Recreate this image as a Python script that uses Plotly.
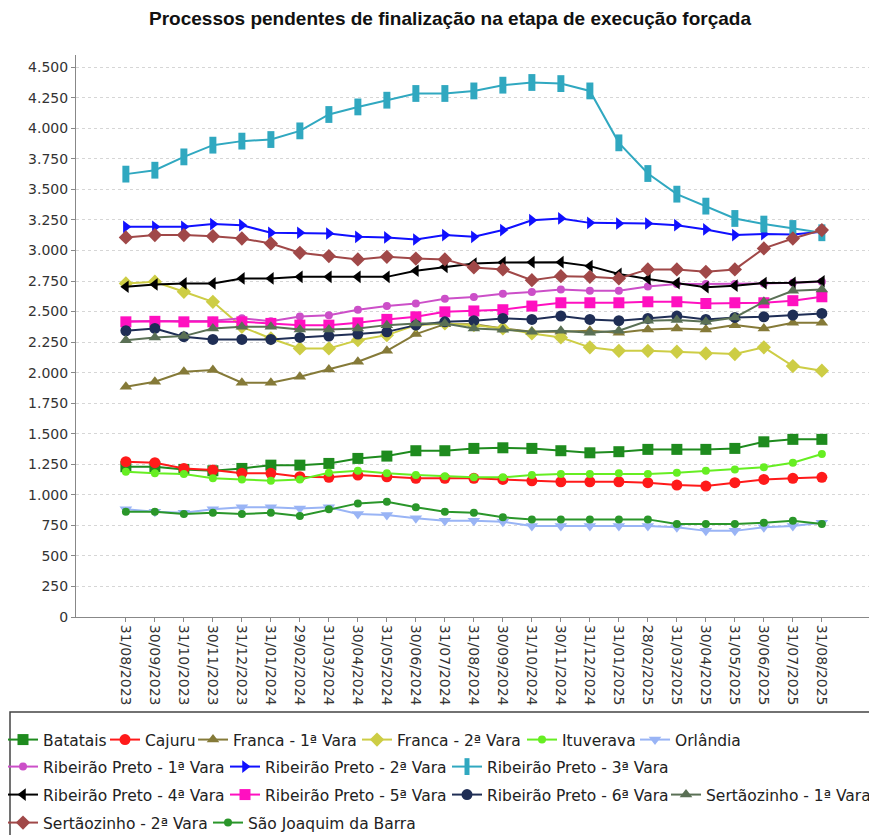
import plotly.graph_objects as go

dates = [
    "31/08/2023", "30/09/2023", "31/10/2023", "30/11/2023", "31/12/2023",
    "31/01/2024", "29/02/2024", "31/03/2024", "30/04/2024", "31/05/2024",
    "30/06/2024", "31/07/2024", "31/08/2024", "30/09/2024", "31/10/2024",
    "30/11/2024", "31/12/2024", "31/01/2025", "28/02/2025", "31/03/2025",
    "30/04/2025", "31/05/2025", "30/06/2025", "31/07/2025", "31/08/2025",
]

batatais = [1230, 1230, 1208, 1197, 1216, 1243, 1243, 1257, 1298, 1317, 1361, 1361, 1380,
            1385, 1380, 1361, 1344, 1353, 1372, 1372, 1372, 1380, 1434, 1454, 1454]
cajuru = [1271, 1263, 1216, 1203, 1176, 1176, 1148, 1143, 1162, 1148, 1135, 1135, 1135,
          1126, 1115, 1107, 1107, 1107, 1099, 1080, 1072, 1099, 1126, 1135, 1143]
franca_1 = [1884, 1925, 2007, 2021, 1917, 1917, 1966, 2026, 2089, 2179, 2316, 2397, 2397,
            2362, 2334, 2334, 2343, 2326, 2353, 2362, 2353, 2389, 2362, 2408, 2408]
franca_2 = [2730, 2744, 2662, 2580, 2375, 2280, 2198, 2198, 2266, 2307, 2389, 2403, 2389,
            2362, 2321, 2288, 2207, 2179, 2179, 2171, 2157, 2152, 2207, 2054, 2016]
ituverava = [1189, 1176, 1170, 1135, 1126, 1115, 1126, 1181, 1197, 1176, 1162, 1153, 1143,
             1143, 1162, 1170, 1170, 1176, 1170, 1181, 1197, 1208, 1225, 1263, 1334]
orlandia = [881, 862, 853, 881, 898, 898, 889, 898, 843, 835, 808, 788, 788,
            780, 745, 745, 745, 745, 745, 734, 705, 705, 734, 745, 772]
rp_1 = [2420, 2420, 2420, 2425, 2445, 2420, 2460, 2470, 2515, 2545, 2565, 2605, 2620,
        2645, 2660, 2680, 2670, 2670, 2705, 2725, 2725, 2725, 2730, 2735, 2745]
rp_2 = [3194, 3194, 3194, 3216, 3207, 3145, 3145, 3139, 3112, 3107, 3090, 3126, 3112,
        3167, 3248, 3262, 3226, 3221, 3221, 3207, 3172, 3126, 3134, 3130, 3153]
rp_3 = [3625, 3657, 3766, 3862, 3895, 3908, 3979, 4113, 4175, 4230, 4285, 4285, 4306,
        4353, 4375, 4366, 4306, 3881, 3630, 3461, 3363, 3262, 3216, 3180, 3145]
rp_4 = [2703, 2722, 2730, 2730, 2771, 2771, 2784, 2784, 2784, 2784, 2834, 2866, 2893,
        2902, 2904, 2904, 2872, 2808, 2767, 2733, 2700, 2712, 2733, 2735, 2748]
rp_5 = [2416, 2420, 2416, 2416, 2416, 2403, 2389, 2389, 2408, 2436, 2457, 2498, 2505,
        2515, 2545, 2572, 2572, 2572, 2580, 2580, 2566, 2572, 2572, 2589, 2621]
rp_6 = [2343, 2362, 2294, 2272, 2272, 2272, 2288, 2299, 2316, 2334, 2389, 2416, 2425,
        2444, 2436, 2463, 2436, 2425, 2444, 2463, 2436, 2452, 2457, 2471, 2485]
sertaozinho_1 = [2266, 2288, 2299, 2362, 2375, 2375, 2353, 2353, 2362, 2389, 2403, 2403, 2362,
                 2352, 2334, 2343, 2326, 2343, 2425, 2430, 2416, 2452, 2580, 2670, 2681]
sertaozinho_2 = [3107, 3126, 3126, 3117, 3098, 3057, 2981, 2954, 2927, 2948, 2934, 2927, 2861,
                 2845, 2757, 2790, 2784, 2771, 2845, 2845, 2825, 2845, 3017, 3098, 3167]
sao_joaquim = [862, 862, 843, 853, 843, 853, 826, 881, 930, 944, 898, 862, 853,
               816, 799, 799, 799, 799, 799, 761, 761, 761, 772, 788, 761]

# name, values, color, symbol, marker size
series = [
    ("Batatais", batatais, "#1E8B1E", "square", 11),
    ("Cajuru", cajuru, "#FF1A1A", "circle", 11),
    ("Franca - 1ª Vara", franca_1, "#857A38", "triangle-up", 11),
    ("Franca - 2ª Vara", franca_2, "#CDCD45", "diamond", 11),
    ("Ituverava", ituverava, "#66EE22", "circle", 8),
    ("Orlândia", orlandia, "#99B4F5", "triangle-down", 11),
    ("Ribeirão Preto - 1ª Vara", rp_1, "#CC4FC8", "circle", 8),
    ("Ribeirão Preto - 2ª Vara", rp_2, "#1010FF", "triangle-right", 11),
    ("Ribeirão Preto - 3ª Vara", rp_3, "#30A8C0", "line-ns", 12),
    ("Ribeirão Preto - 4ª Vara", rp_4, "#000000", "triangle-left", 11),
    ("Ribeirão Preto - 5ª Vara", rp_5, "#FF10C0", "square", 11),
    ("Ribeirão Preto - 6ª Vara", rp_6, "#1F2E55", "circle", 11),
    ("Sertãozinho - 1ª Vara", sertaozinho_1, "#5A7055", "triangle-up", 11),
    ("Sertãozinho - 2ª Vara", sertaozinho_2, "#A04848", "diamond", 11),
    ("São Joaquim da Barra", sao_joaquim, "#2A962A", "circle", 8),
]

# legend entry placement (text start x, row centre y), page pixels
legend_pos = [
    (43, 740), (145, 740), (233, 740), (397, 740), (562, 740), (675, 740),
    (43, 767), (265, 767), (487, 767),
    (43, 795), (265, 795), (487, 795), (706, 795),
    (43, 823), (248, 823),
]

# the page has an 8px body margin, so the figure is shrunk by that much
W, H = 869, 827


# page pixel -> paper (plot area on the page: x 76..870, y 55..617)
def py(ypx):
    return (617 - ypx) / 562


def px(xpx):
    return (xpx - 76) / 794


fig = go.Figure()
layout_legends = {}
for i, ((name, vals, color, symbol, size), (tx, ty)) in enumerate(zip(series, legend_pos)):
    leg = "legend" if i == 0 else f"legend{i + 1}"
    if symbol == "line-ns":
        marker = dict(symbol=symbol, size=size, line=dict(width=7, color=color))
    else:
        marker = dict(symbol=symbol, size=size, color=color)
    fig.add_trace(go.Scatter(
        x=dates,
        y=vals,
        name=name,
        mode="lines+markers",
        line=dict(color=color, width=2),
        marker=marker,
        legend=leg,
    ))
    layout_legends[leg] = dict(
        orientation="h",
        font=dict(family="DejaVu Sans", size=15.5, color="#222"),
        bgcolor="rgba(0,0,0,0)",
        x=px(tx - 40), xanchor="left",
        y=py(ty), yanchor="middle",
        itemwidth=30,
    )

fig.update_layout(
    width=W,
    height=H,
    margin=dict(l=68, r=7, t=47, b=218, autoexpand=False),
    showlegend=True,
    paper_bgcolor="white",
    plot_bgcolor="white",
    separators=",.",
    title=dict(
        text="<b>Processos pendentes de finalização na etapa de execução forçada</b>",
        font=dict(family="Liberation Sans", size=19, color="#111"),
        x=442 / W,
        xanchor="center",
        xref="container",
        y=1 - 10 / H,
        yanchor="middle",
    ),
    xaxis=dict(
        type="category",
        range=[-1.72, 25.66],
        tickangle=90,
        tickfont=dict(family="DejaVu Sans", size=14, color="#333"),
        showline=True,
        linecolor="#888",
        linewidth=1,
        ticks="outside",
        ticklen=4,
        tickcolor="#888",
        showgrid=False,
        zeroline=False,
    ),
    yaxis=dict(
        range=[0, 4600],
        tickvals=list(range(0, 4501, 250)),
        tickformat=",d",
        tickfont=dict(family="DejaVu Sans", size=14, color="#333"),
        showline=True,
        linecolor="#888",
        linewidth=1,
        ticks="outside",
        ticklen=4,
        tickcolor="#888",
        showgrid=True,
        gridcolor="#d6d6d6",
        griddash="3px,3px",
        zeroline=False,
    ),
    shapes=[dict(
        type="rect",
        xref="paper", yref="paper",
        x0=px(10), x1=px(890),
        y0=py(712), y1=py(850),
        line=dict(color="#444", width=1.5),
        fillcolor="rgba(0,0,0,0)",
    )],
    **layout_legends,
)

fig.write_html("out.html")
